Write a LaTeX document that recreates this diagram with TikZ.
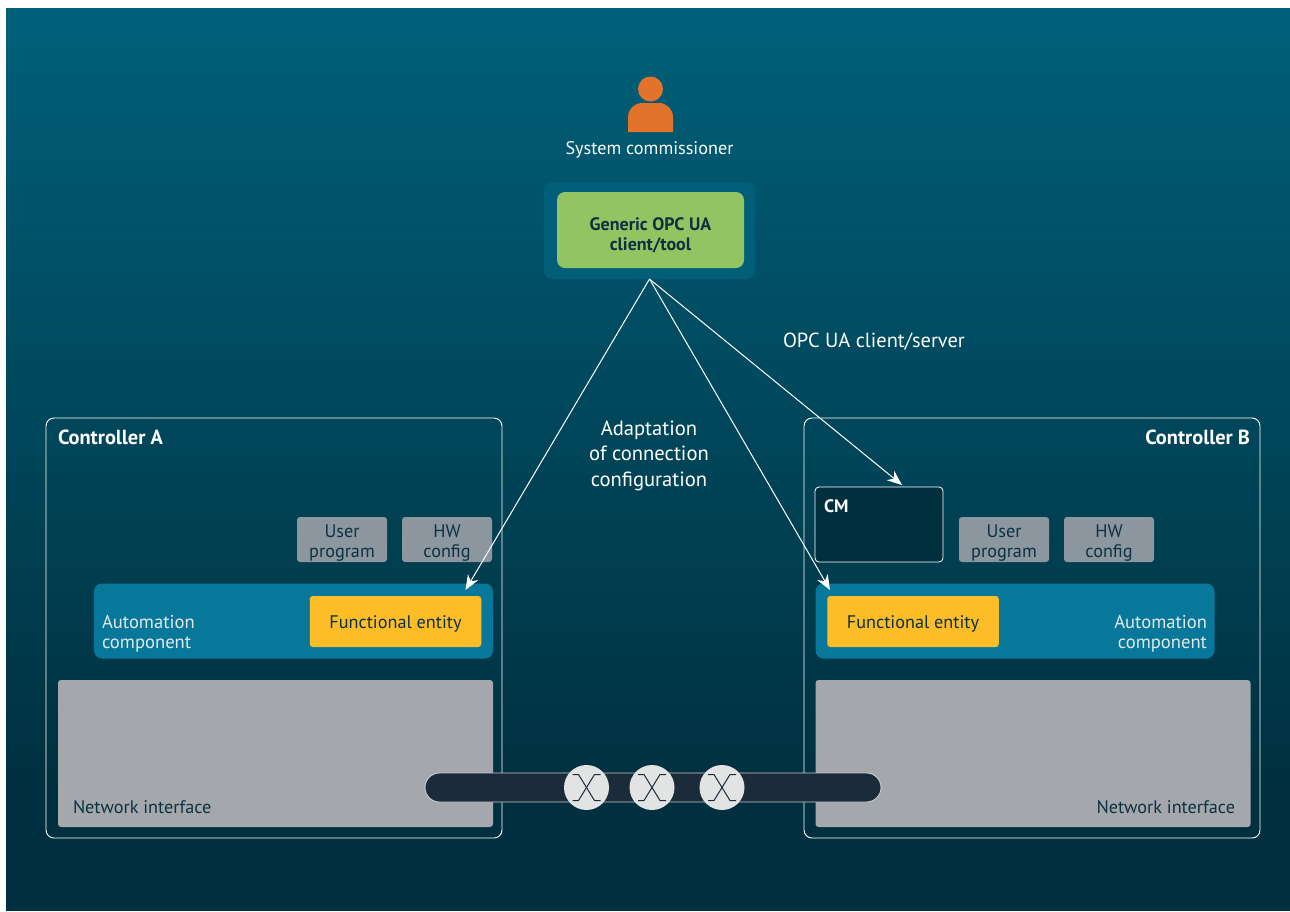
\documentclass[tikz,border=0pt]{standalone}
\usepackage{fontspec}
\setmainfont{PT Sans}
\usetikzlibrary{arrows.meta}
\definecolor{bgtop}{HTML}{00607A}
\definecolor{bgmid}{HTML}{004558}
\definecolor{bgbot}{HTML}{00303F}
\definecolor{ink}{HTML}{0C3142}
\definecolor{clientbg}{HTML}{005E78}
\definecolor{clientgreen}{HTML}{93C462}
\definecolor{personc}{HTML}{E3722A}
\definecolor{autoc}{HTML}{08789A}
\definecolor{autotext}{HTML}{E3EAEE}
\definecolor{fec}{HTML}{FDBD26}
\definecolor{smallc}{HTML}{8C969F}
\definecolor{netc}{HTML}{A4A8AC}
\definecolor{busc}{HTML}{1C2B39}
\definecolor{busline}{HTML}{C8CCCF}
\definecolor{swc}{HTML}{E2E4E4}
\definecolor{cmc}{HTML}{002F3E}
\newcommand\lowered[2]{\raisebox{#1}[0pt][0pt]{\begin{tabular}{@{}c@{}}#2\end{tabular}}}
\tikzset{
  x=1pt,y=-1pt,
  boxb/.style={inner sep=0pt,outer sep=0pt,align=center,text=ink,font=\fontsize{18.2}{20}\selectfont},
  clientouter/.style={boxb,fill=clientbg,rounded corners=8pt,minimum width=211pt,minimum height=97pt},
  clientbox/.style={boxb,fill=clientgreen,rounded corners=8pt,minimum width=187pt,minimum height=76pt,font=\fontsize{18}{20}\selectfont\bfseries},
  controller/.style={boxb,draw=white,line width=0.9pt,rounded corners=8pt,minimum width=456pt,minimum height=420pt},
  smallbox/.style={boxb,fill=smallc,rounded corners=3pt,minimum width=90pt,minimum height=45pt},
  autobox/.style={boxb,fill=autoc,rounded corners=8pt,minimum width=399pt,minimum height=75pt},
  febox/.style={boxb,fill=fec,rounded corners=3pt,minimum width=171.5pt,minimum height=51pt},
  netbox/.style={boxb,fill=netc,rounded corners=3pt,minimum width=435pt,minimum height=147pt},
  cmbox/.style={boxb,fill=cmc,draw=white,line width=0.8pt,rounded corners=4pt,minimum width=128pt,minimum height=75pt},
  busbox/.style={boxb,fill=busc,draw=busline,line width=0.9pt,rounded corners=14.5pt,minimum width=456pt,minimum height=29pt},
  switchc/.style={circle,fill=swc,inner sep=0pt,outer sep=0pt,minimum size=45pt},
  lab/.style={inner sep=0pt,outer sep=0pt,align=center,text=ink,font=\fontsize{18.2}{20}\selectfont},
  whitelab/.style={lab,text=white},
  autolab/.style={lab,text=autotext,font=\fontsize{18.6}{20}\selectfont},
  bigwhite/.style={whitelab,font=\fontsize{20.6}{25.5}\selectfont},
  boldwhite/.style={whitelab,font=\fontsize{20.4}{22}\selectfont\bfseries},
  conn/.style={draw=white,line width=1pt,-{Stealth[length=15pt,width=12pt]}},
  xmark/.style={draw=busc,line width=1pt},
}
\begin{document}
\begin{tikzpicture}
\useasboundingbox (0,0) rectangle (1290,911);
\shade[top color=bgtop,middle color=bgmid,bottom color=bgbot] (6,8) rectangle (1290,790);
\fill[bgbot] (6,789.5) rectangle (1290,911);
% person
\fill[personc] (628,132) -- (628,117) arc[start angle=180,end angle=270,radius=14] -- (659,103) arc[start angle=270,end angle=360,radius=14] -- (673,132) -- cycle;
\node[circle,fill=personc,minimum size=25pt,inner sep=0pt] (head) at (650.5,89) {};
\node[whitelab] (sys) at (649.5,150) {System commissioner};
% client
\node[clientouter] (outer) at (649.5,230.5) {};
\node[clientbox] (client) at (650.5,230) {\lowered{-10.5pt}{Generic OPC UA\\client/tool}};
% controllers
\node[controller] (ctrlA) at (274,628) {};
\node[controller] (ctrlB) at (1032,628) {};
\node[boldwhite,anchor=west] (ctrlAl) at (58,437.5) {Controller A};
\node[boldwhite,anchor=east] (ctrlBl) at (1250,437.5) {Controller B};
% A
\node[smallbox] (userA) at (342,539.5) {\lowered{-8.5pt}{User\\program}};
\node[smallbox] (hwA) at (447,539.5) {\lowered{-8.5pt}{HW\\config}};
\node[autobox] (autoA) at (293.5,621) {};
\node[autolab,anchor=west,align=left] (autoAl) at (102,634) {Automation\\component};
\node[febox] (feA) at (395.5,621.5) {\lowered{-7pt}{Functional entity}};
\node[netbox] (netA) at (275.5,753.5) {};
\node[lab,anchor=west] (netAl) at (73,807) {Network interface};
% B
\node[cmbox] (cm) at (879,524.5) {};
\node[whitelab,anchor=west,font=\fontsize{18}{20}\selectfont\bfseries] (cml) at (824,506) {CM};
\node[smallbox] (userB) at (1004,539.5) {\lowered{-8.5pt}{User\\program}};
\node[smallbox] (hwB) at (1109,539.5) {\lowered{-8.5pt}{HW\\config}};
\node[autobox] (autoB) at (1015,621) {};
\node[autolab,anchor=east,align=right] (autoBl) at (1207,634) {Automation\\component};
\node[febox] (feB) at (913,621.5) {\lowered{-7pt}{Functional entity}};
\node[netbox] (netB) at (1033,753.5) {};
\node[lab,anchor=east] (netBl) at (1235,807) {Network interface};
% bus
\node[busbox] (bus) at (653,787.5) {};
\foreach \n/\cx in {sa/586.5,sb/652,sc/722}{
  \node[switchc] (\n) at (\cx,787.5) {};
  \draw[xmark] (\cx-14,774.5) -- (\cx-8,774.5) -- (\cx+8,800.5) -- (\cx+14,800.5);
  \draw[xmark] (\cx+14,774.5) -- (\cx+8,774.5) -- (\cx-8,800.5) -- (\cx-14,800.5);
}
% labels
\node[bigwhite] (adapt) at (649,455.5) {Adaptation\\of connection\\configuration};
\node[whitelab,font=\fontsize{20.4}{25}\selectfont,anchor=west] (opc) at (783,342) {OPC UA client/server};
% connectors
\coordinate (tipA) at (465.5,590);
\coordinate (tipB) at (830,590);
\coordinate (tipC) at (902,485);
\draw[conn] (outer.south) -- (tipA);
\draw[conn] (outer.south) -- (tipB);
\draw[conn] (outer.south) -- (tipC);
\end{tikzpicture}
\end{document}
